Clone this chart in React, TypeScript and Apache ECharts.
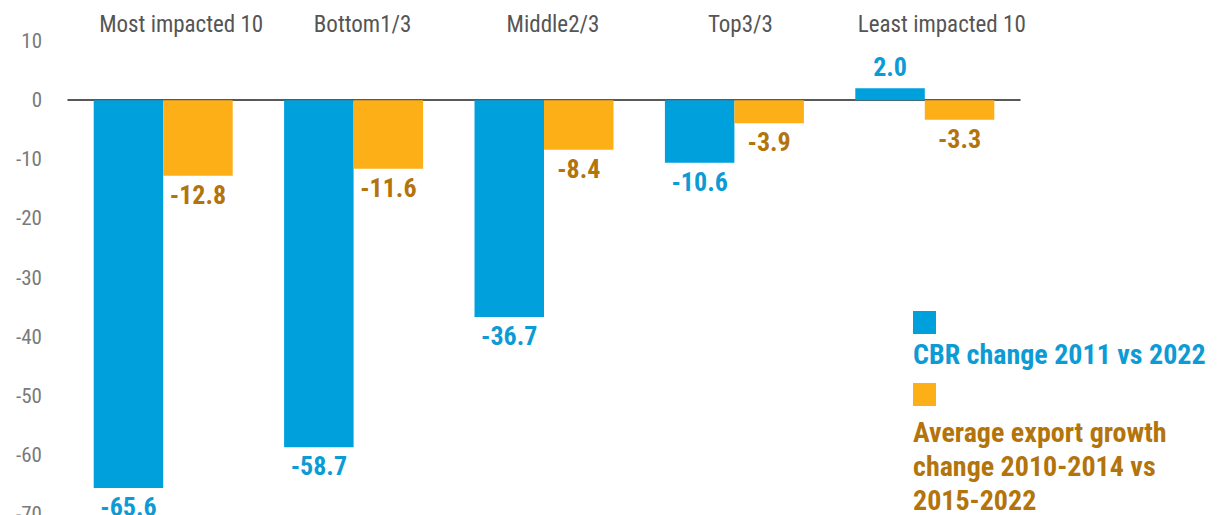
import React, { useEffect, useRef } from "react";
import * as echarts from "echarts";

const categories = ["Most impacted 10", "Bottom1/3", "Middle2/3", "Top3/3", "Least impacted 10"];
const cbrChange = [-65.6, -58.7, -36.7, -10.6, 2.0];
const exportGrowthChange = [-12.8, -11.6, -8.4, -3.9, -3.3];
const seriesNames = ["CBR change 2011 vs 2022", "Average export growth change 2010-2014 vs 2015-2022"];
const labelOffsets = [36, 18, 18, 12, 34];

const BLUE = "#00a0dc";
const ORANGE = "#fcaf17";
const BLUE_TEXT = "#0d9bd6";
const ORANGE_TEXT = "#b3740b";
const FONT = "'Liberation Sans Narrow', 'Roboto Condensed', 'DejaVu Sans Condensed', 'Liberation Sans', sans-serif";

export default function App() {
  const ref = useRef<HTMLDivElement>(null);
  useEffect(() => {
    document.body.style.margin = "0";
    const chart = echarts.init(ref.current!, undefined, { renderer: "svg" });
    const rich: any = {};
    labelOffsets.forEach((o, i) => {
      rich["c" + i] = {
        padding: [0, 0, 0, o],
        fontSize: 23,
        color: "#555",
        fontFamily: FONT,
      };
    });
    const mkData = (vals: number[]) =>
      vals.map((v) => ({
        value: v,
        label: { position: v >= 0 ? "top" : "bottom", distance: v >= 0 ? 8 : 6 },
      }));
    chart.setOption({
      animation: false,
      grid: { left: 68, right: 197, top: 41, bottom: 1, containLabel: false, outerBoundsMode: "none" },
      xAxis: [
        {
          type: "category",
          data: categories,
          position: "top",
          axisLine: { show: false, onZero: false },
          axisTick: { show: false },
          axisLabel: {
            margin: 5,
            interval: 0,
            fontFamily: FONT,
            fontSize: 23,
            color: "#555",
            formatter: (v: string) => {
              const i = categories.indexOf(v);
              return `{c${i}|${v}}`;
            },
            rich,
          },
        },
        {
          type: "category",
          data: categories,
          position: "bottom",
          axisLine: { show: true, onZero: true, lineStyle: { color: "#222", width: 1.5 } },
          axisTick: { show: false },
          axisLabel: { show: false },
        },
      ],
      yAxis: {
        type: "value",
        min: -70,
        max: 10,
        interval: 10,
        splitLine: { show: false },
        axisLine: { show: false },
        axisTick: { show: false },
        axisLabel: {
          margin: 26,
          fontFamily: FONT,
          fontSize: 21,
          color: "#7a7a7a",
        },
      },
      series: [
        {
          name: seriesNames[0],
          type: "bar",
          xAxisIndex: 0,
          data: mkData(cbrChange),
          itemStyle: { color: BLUE },
          barGap: "0%",
          barCategoryGap: "27%",
          label: {
            show: true,
            fontFamily: FONT,
            fontSize: 26,
            fontWeight: "bold",
            color: BLUE_TEXT,
            formatter: (p: any) => Number(p.value).toFixed(1),
          },
        },
        {
          name: seriesNames[1],
          type: "bar",
          xAxisIndex: 0,
          data: mkData(exportGrowthChange),
          itemStyle: { color: ORANGE },
          barGap: "0%",
          barCategoryGap: "27%",
          label: {
            show: true,
            fontFamily: FONT,
            fontSize: 26,
            fontWeight: "bold",
            color: ORANGE_TEXT,
            formatter: (p: any) => Number(p.value).toFixed(1),
          },
        },
      ],
      graphic: [
        { type: "rect", left: 913, top: 311, shape: { width: 23, height: 23 }, style: { fill: BLUE } },
        {
          type: "text",
          left: 913,
          top: 340,
          style: {
            text: "CBR change 2011 vs 2022",
            fill: BLUE_TEXT,
            font: `bold 28px ${FONT}`,
          },
        },
        { type: "rect", left: 913, top: 383, shape: { width: 23, height: 23 }, style: { fill: ORANGE } },
        {
          type: "text",
          left: 913,
          top: 415,
          style: {
            text: "Average export growth\nchange 2010-2014 vs\n2015-2022",
            fill: ORANGE_TEXT,
            font: `bold 28px ${FONT}`,
            lineHeight: 34,
          },
        },
      ],
    });
    return () => chart.dispose();
  }, []);
  return <div ref={ref} style={{ position: "absolute", left: 0, top: 0, width: 1217, height: 515 }} />;
}
